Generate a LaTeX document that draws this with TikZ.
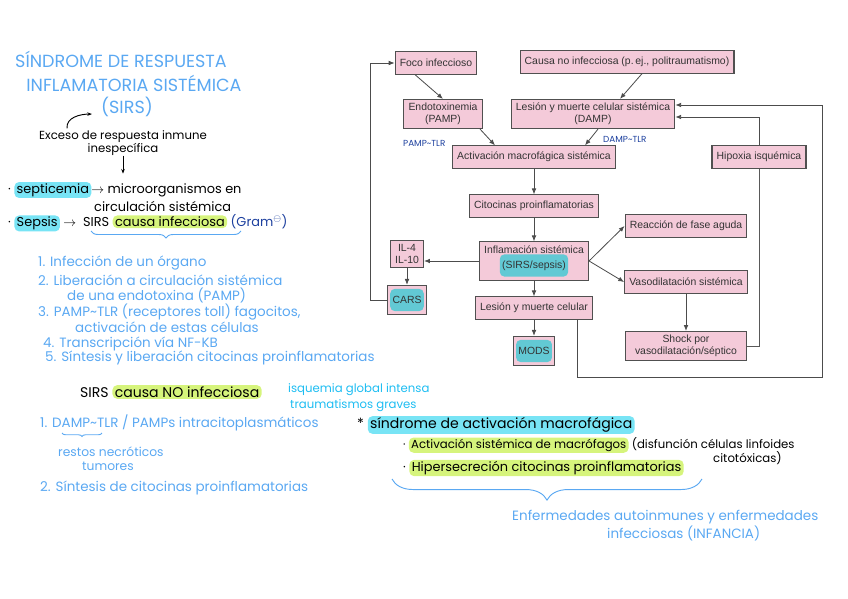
\documentclass[tikz,border=0pt]{standalone}
\usepackage{fontspec}
\setmainfont{Liberation Sans}
\newfontfamily\handfont{Poppins}
\usetikzlibrary{arrows.meta,calc,decorations.pathreplacing}

\definecolor{boxpink}{HTML}{F4CAD9}
\definecolor{boxline}{HTML}{505050}
\definecolor{notablue}{HTML}{5AA8F2}
\definecolor{inkblue}{HTML}{1C3F9E}
\definecolor{skyink}{HTML}{1DBDF2}
\definecolor{hlcyan}{HTML}{78E4F5}
\definecolor{hlteal}{HTML}{62C9D4}
\definecolor{hllime}{HTML}{D6F47C}

\newcommand{\hlmark}[2]{\tikz[baseline=(m.base)]\node[fill=#1,rounded corners=4pt,inner xsep=2pt,inner ysep=1.2pt,outer sep=0pt](m){#2};}

\tikzset{
  flowbox/.style={draw=boxline, fill=boxpink, line width=0.9pt, align=center,
    font=\fontsize{8.9}{10.5}\selectfont, text=black!80,
    inner xsep=4pt, inner ysep=3pt, minimum height=19pt},
  flowarrow/.style={-{Latex[length=5pt,width=4pt]}, draw=black!70, line width=0.7pt},
  backline/.style={draw=black!65, line width=0.6pt},
  handnote/.style={font=\handfont\fontsize{11.5}{13}\selectfont, anchor=west, inner sep=0pt, text=notablue},
  handink/.style={handnote, text=black, font=\handfont\fontsize{11}{13}\selectfont},
  handarrow/.style={-{Stealth[length=4pt]}, line width=0.8pt},
  handbrace/.style={decorate, draw=notablue, line width=0.8pt},
  titleline/.style={handnote, anchor=center, font=\handfont\fontsize{15}{17}\selectfont},
}

\begin{document}
\begin{tikzpicture}[x=0.3mm,y=-0.3mm]
\useasboundingbox (0,0) rectangle (848,599);

% flowchart
\node[flowbox] (foco) at (436,63) {Foco infeccioso};
\node[flowbox] (causa) at (627,62) {Causa no infecciosa (p.\,ej., politraumatismo)};
\node[flowbox] (endo) at (443,114) {Endotoxinemia\\(PAMP)};
\node[flowbox] (damp) at (593,114) {Lesión y muerte celular sistémica\\(DAMP)};
\node[flowbox] (activ) at (534,157) {Activación macrofágica sistémica};
\node[flowbox] (hipox) at (759,157) {Hipoxia isquémica};
\node[flowbox] (cito) at (534,206) {Citocinas proinflamatorias};
\node[flowbox] (infl) at (534,261) {Inflamación sistémica\\\hlmark{hlteal}{(SIRS/sepsis)}};
\node[flowbox] (il) at (407,254) {IL-4\\IL-10};
\node[flowbox, inner xsep=2pt] (cars) at (407,300) {\hlmark{hlteal}{CARS}};
\node[flowbox] (lesion) at (534,308) {Lesión y muerte celular};
\node[flowbox, inner xsep=2pt] (mods) at (534,351) {\hlmark{hlteal}{MODS}};
\node[flowbox, minimum width=103pt] (reac) at (686,226) {Reacción de fase aguda};
\node[flowbox, minimum width=103pt] (vaso) at (686,282) {Vasodilatación sistémica};
\node[flowbox, minimum width=103pt] (shock) at (686,346) {Shock por\\vasodilatación/séptico};
\coordinate (loopcorner) at (822,377);

\draw[flowarrow] ($(foco.south)+(-21,0)$) -- (endo.north);
\draw[flowarrow] ($(endo.south)+(37,0)$) -- ($(activ.north)+(-39,0)$);
\draw[flowarrow] ($(causa.south)+(15,0)$) -- ($(damp.north)+(27,0)$);
\draw[flowarrow] ($(damp.south)+(5,0)$) -- ($(activ.north)+(51,0)$);
\draw[flowarrow] (activ) -- (cito);
\draw[flowarrow] (cito) -- (infl);
\draw[flowarrow] (infl.west) -- (infl.west -| il.east);
\draw[flowarrow] (il) -- (cars);
\draw[flowarrow] (infl) -- (lesion);
\draw[flowarrow] (lesion) -- (mods);
\draw[flowarrow] (infl.east) -- (reac.west);
\draw[flowarrow] (infl.east) -- (vaso.west);
\draw[flowarrow] (vaso) -- (shock);
\draw[backline] (shock.east) -| (hipox.south);
\draw[flowarrow] (hipox.north) |- ($(damp.east)+(0,3)$);
\draw[flowarrow] ($(lesion.south)+(43,0)$) |- (loopcorner) |- ($(damp.east)+(0,-9)$);
\draw[flowarrow] (cars.west) -- ++(-17,0) |- (foco.west);

\node[handnote, text=inkblue, font=\handfont\fontsize{7.5}{8}\selectfont] (pamptlr) at (403,143) {PAMP\textasciitilde TLR};
\node[handnote, text=inkblue, font=\handfont\fontsize{7.5}{8}\selectfont] (damptlr) at (603,139) {DAMP\textasciitilde TLR};

% title and left notes
\node[titleline] (tit1) at (121,59) {SÍNDROME DE RESPUESTA};
\node[titleline] (tit2) at (134,83) {INFLAMATORIA SISTÉMICA};
\node[titleline] (tit3) at (127,107) {(SIRS)};

\node[handink, anchor=center, align=center, font=\handfont\fontsize{10}{11}\selectfont] (exceso) at (123,143) {Exceso de respuesta inmune\\inespecífica};
\draw[handarrow] ($(exceso.north)+(-56,-2)$) to[out=95,in=180] ($(tit3.south west)+(-9,-3)$);
\draw[handarrow] (exceso.south) -- ++(0,18);

\node[handink] (septi) at (8,190) {· \hlmark{hlcyan}{septicemia}$\rightarrow$ microorganismos en};
\node[handink] (circ) at (94,206) {circulación sistémica};
\node[handink] (sepsis) at (8,223) {· \hlmark{hlcyan}{Sepsis} $\rightarrow$ \ SIRS \hlmark{hllime}{causa infecciosa} \textcolor{inkblue}{(Gram$^{\ominus}$)}};
\draw[handbrace, decoration={brace, amplitude=6pt, mirror}] (91,231) -- (241,231);

\node[handnote] (paso1) at (38,263) {1. Infección de un órgano};
\node[handnote] (paso2) at (38,280) {2. Liberación a circulación sistémica};
\node[handnote] (paso2b) at (67,295) {de una endotoxina (PAMP)};
\node[handnote] (paso3) at (38,312) {3. PAMP\textasciitilde TLR (receptores toll) fagocitos,};
\node[handnote] (paso3b) at (75,327) {activación de estas células};
\node[handnote] (paso4) at (43,344) {4. Transcripción vía NF-KB};
\node[handnote] (paso5) at (45,358) {5. Síntesis y liberación citocinas proinflamatorias};

\node[handink, font=\handfont\fontsize{12}{14}\selectfont] (noinf) at (80,392) {SIRS \hlmark{hllime}{causa NO infecciosa}};
\node[handnote, text=skyink, font=\handfont\fontsize{10}{11}\selectfont] (isq) at (288,390) {isquemia global intensa};
\node[handnote, text=skyink, font=\handfont\fontsize{10}{11}\selectfont] (trauma) at (290,406) {traumatismos graves};
\node[handnote] (dpaso1) at (40,423) {1. DAMP\textasciitilde TLR / PAMPs intracitoplasmáticos};
\draw[handbrace, decoration={brace, amplitude=3pt, mirror}] (62,433) -- (102,433);
\node[handnote, font=\handfont\fontsize{10.5}{12}\selectfont] (restos) at (58,452) {restos necróticos};
\node[handnote, font=\handfont\fontsize{10.5}{12}\selectfont] (tumor) at (82,466) {tumores};
\node[handnote] (dpaso2) at (40,488) {2. Síntesis de citocinas proinflamatorias};

% bottom right notes
\node[handink, font=\handfont\fontsize{12}{14}\selectfont] (sam) at (357,425) {* \hlmark{hlcyan}{síndrome de activación macrofágica}};
\node[handink, font=\handfont\fontsize{10}{11}\selectfont] (sam1) at (403,445) {· \hlmark{hllime}{Activación sistémica de macrófagos} (disfunción células linfoides};
\node[handink, font=\handfont\fontsize{10}{11}\selectfont] (sam1b) at (713,458) {citotóxicas)};
\node[handink, font=\handfont\fontsize{11}{12}\selectfont] (sam2) at (403,468) {· \hlmark{hllime}{Hipersecreción citocinas proinflamatorias}};
\draw[handbrace, decoration={brace, amplitude=18pt, mirror}] (392,479) -- (702,479);
\node[handnote] (enf1) at (512,517) {Enfermedades autoinmunes y enfermedades};
\node[handnote] (enf2) at (607,533) {infecciosas (INFANCIA)};
\end{tikzpicture}
\end{document}
